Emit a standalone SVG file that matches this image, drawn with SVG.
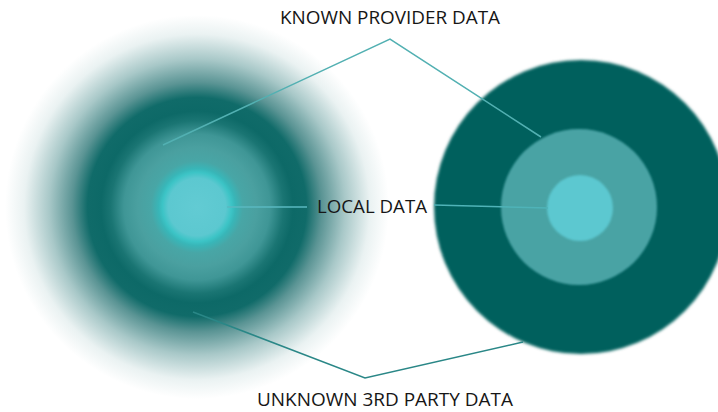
<svg xmlns="http://www.w3.org/2000/svg" width="718" height="412" viewBox="0 0 718 412">
  <defs>
    <radialGradient id="fuzzy" gradientUnits="userSpaceOnUse" cx="197" cy="207" r="192">
      <stop offset="0" stop-color="#62cbd3"/>
      <stop offset="0.15" stop-color="#5cc8d0"/>
      <stop offset="0.18" stop-color="#3cc4c6"/>
      <stop offset="0.2" stop-color="#38b6b8"/>
      <stop offset="0.24" stop-color="#48a6a6"/>
      <stop offset="0.31" stop-color="#4aa0a0"/>
      <stop offset="0.38" stop-color="#3f9696"/>
      <stop offset="0.45" stop-color="#1a7573"/>
      <stop offset="0.5" stop-color="#0d6967"/>
      <stop offset="0.57" stop-color="#106b69"/>
      <stop offset="0.65" stop-color="#5a9494"/>
      <stop offset="0.77" stop-color="#a8c8c8"/>
      <stop offset="0.9" stop-color="#eaf2f2"/>
      <stop offset="1" stop-color="#ffffff"/>
    </radialGradient>
    <filter id="soft" x="-10%" y="-10%" width="120%" height="120%">
      <feGaussianBlur stdDeviation="1.6"/>
    </filter>
    <filter id="soft2" x="-10%" y="-10%" width="120%" height="120%">
      <feGaussianBlur stdDeviation="0.8"/>
    </filter>
  </defs>
  <style>
    .lbl { font-family: "Open Sans", "Liberation Sans", sans-serif; font-size: 19px; font-weight: 500; fill: #161616; }
    .conn { fill: none; stroke-width: 1.5; stroke-linejoin: miter; }
  </style>
  <rect width="718" height="412" fill="#ffffff"/>

  <g id="fuzzy-circle">
    <circle cx="197" cy="207" r="192" fill="url(#fuzzy)"/>
  </g>

  <g id="sharp-circle">
    <circle cx="581" cy="207" r="147" fill="#06615d" filter="url(#soft)"/>
    <circle cx="579" cy="207" r="78" fill="#48a3a4" filter="url(#soft2)"/>
    <circle cx="580" cy="208" r="33" fill="#5cc8d0" filter="url(#soft2)"/>
  </g>

  <g id="connectors">
    <polyline class="conn" stroke="#52b0b2" points="163,145 390,39 541,137"/>
    <line class="conn" stroke="#5ab8c0" x1="227" y1="207" x2="307" y2="207"/>
    <line class="conn" stroke="#4fb3b8" x1="434" y1="205" x2="548" y2="208"/>
    <polyline class="conn" stroke="#2a8787" points="193,312 365,378 523,342"/>
  </g>

  <g id="label-known">
    <text class="lbl" x="280" y="24" textLength="220" lengthAdjust="spacingAndGlyphs">KNOWN PROVIDER DATA</text>
  </g>
  <g id="label-local">
    <text class="lbl" x="317" y="213" textLength="110" lengthAdjust="spacingAndGlyphs">LOCAL DATA</text>
  </g>
  <g id="label-unknown">
    <text class="lbl" x="257" y="406" textLength="256" lengthAdjust="spacingAndGlyphs">UNKNOWN 3RD PARTY DATA</text>
  </g>
</svg>
